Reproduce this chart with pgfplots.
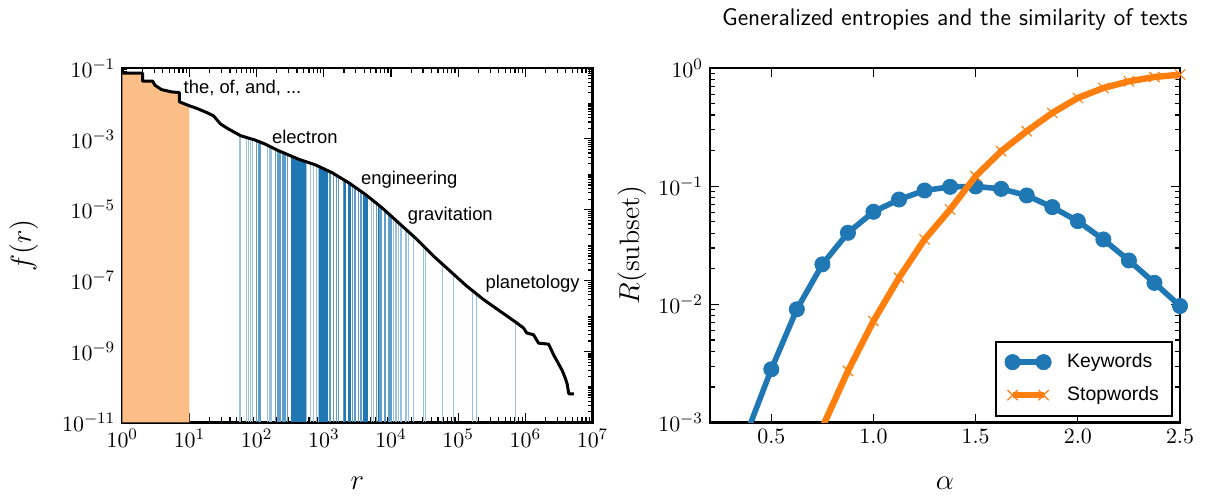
\documentclass[border=0pt]{standalone}
\usepackage{fontspec}
\usepackage{pgfplots}
\pgfplotsset{compat=1.18}
\newfontfamily\helv{Liberation Sans}
\definecolor{tabblue}{HTML}{1F77B4}
\definecolor{taborange}{HTML}{FF7F0E}
\definecolor{fillorange}{HTML}{FABE86}
\pgfplotsset{
  myaxis/.style={
    scale only axis,
    axis line style={line width=1.3pt},
    tick style={line width=0.6pt, black},
    tick align=inside,
    major tick length=4.5pt,
    minor tick length=2.5pt,
    tick label style={font=\fontsize{11}{13}\selectfont},
    label style={font=\fontsize{14}{16}\selectfont},
  }
}
\begin{document}
\begin{tikzpicture}
\useasboundingbox (0,0) rectangle (602.5pt,248pt);
% ---------------- left panel ----------------
\begin{axis}[myaxis,
  at={(61.15pt,36.75pt)}, anchor=south west,
  width=235.1pt, height=177.25pt,
  xmode=log, ymode=log, log origin y=infty,
  xmin=1, xmax=1e7, ymin=1e-11, ymax=1e-1,
  xtick={1,10,100,1000,1e4,1e5,1e6,1e7},
  minor xtick={2,3,4,5,6,7,8,9,20,30,40,50,60,70,80,90,200,300,400,500,600,700,800,900,2000,3000,4000,5000,6000,7000,8000,9000,2e4,3e4,4e4,5e4,6e4,7e4,8e4,9e4,2e5,3e5,4e5,5e5,6e5,7e5,8e5,9e5,2e6,3e6,4e6,5e6,6e6,7e6,8e6,9e6},
  ytick={1e-11,1e-9,1e-7,1e-5,1e-3,1e-1},
  minor ytick={2e-11,3e-11,4e-11,5e-11,6e-11,7e-11,8e-11,9e-11,1e-10,2e-10,3e-10,4e-10,5e-10,6e-10,7e-10,8e-10,9e-10,2e-9,3e-9,4e-9,5e-9,6e-9,7e-9,8e-9,9e-9,1e-8,2e-8,3e-8,4e-8,5e-8,6e-8,7e-8,8e-8,9e-8,2e-7,3e-7,4e-7,5e-7,6e-7,7e-7,8e-7,9e-7,1e-6,2e-6,3e-6,4e-6,5e-6,6e-6,7e-6,8e-6,9e-6,2e-5,3e-5,4e-5,5e-5,6e-5,7e-5,8e-5,9e-5,1e-4,2e-4,3e-4,4e-4,5e-4,6e-4,7e-4,8e-4,9e-4,2e-3,3e-3,4e-3,5e-3,6e-3,7e-3,8e-3,9e-3,1e-2,2e-2,3e-2,4e-2,5e-2,6e-2,7e-2,8e-2,9e-2},
  xlabel={$r$}, ylabel={$f(r)$},
  xlabel style={at={(axis description cs:0.5,-0.171)}, anchor=center},
  ylabel style={at={(axis description cs:-0.21,0.5)}, anchor=center},
]
% stopword region (ranks 1-10)
\addplot[fill=fillorange, draw=none] coordinates {
 (1,1e-11) (1,0.0718) (2,0.0718) (2,0.04285) (2.818,0.04285) (3.076,0.03243)
 (3.846,0.02455) (5.433,0.02113) (7.079,0.02023) (7.079,0.01112) (8.128,0.01)
 (10,0.00855) (10,1e-11)};
% keyword ranks: light
\addplot[ycomb, draw=tabblue!45!white, line width=0.6pt, mark=none] coordinates {
 (56.6,1.256e-3) (71.3,1.091e-3) (75.3,1.057e-3) (81.7,1.009e-3) (86.3,9.795e-4)
 (144.5,6.62e-4) (154.5,6.22e-4) (164,5.89e-4)
 (557,2.24e-4) (625,2.08e-4) (700,1.94e-4) (785,1.78e-4) (830,1.69e-4)
 (5188,1.94e-5) (5470,1.79e-5)
 (10860,5.85e-6) (11530,5.27e-6) (12220,4.78e-6) (12910,4.35e-6) (13680,3.94e-6)
 (14490,3.56e-6) (16260,2.92e-6) (17220,2.65e-6) (18200,2.41e-6) (21580,1.80e-6)
 (30410,9.53e-7) (33040,8.13e-7) (59160,2.86e-7) (85110,1.53e-7)
 (165600,5.12e-8) (185400,4.31e-8) (706300,6.93e-9)};
% medium
\addplot[ycomb, draw=tabblue!72!white, line width=0.65pt, mark=none] coordinates {
 (100.5,8.85e-4) (106.2,8.49e-4) (112.5,8.15e-4)
 (193,5.07e-4) (204,4.81e-4) (216,4.57e-4) (228.5,4.37e-4) (241.5,4.18e-4)
 (256,3.99e-4) (271.5,3.80e-4) (287,3.64e-4)
 (1242,1.18e-4) (1390,1.06e-4) (1560,9.27e-5) (1648,8.69e-5) (1959,7.13e-5)
 (2667,4.90e-5) (2924,4.34e-5) (3273,3.73e-5) (3589,3.30e-5)
 (6152,1.49e-5) (6887,1.26e-5) (7311,1.15e-5) (8185,9.51e-6) (9162,7.83e-6)
 (9705,7.10e-6) (10300,6.40e-6)};
% dark
\addplot[ycomb, draw=tabblue, line width=0.75pt, mark=none] coordinates {
 (333.5,3.23e-4) (348.5,3.11e-4) (360.5,3.03e-4) (377.5,2.92e-4) (393.5,2.82e-4)
 (409,2.74e-4) (428.5,2.65e-4) (448,2.58e-4) (467,2.51e-4) (486.5,2.44e-4)
 (508,2.38e-4) (526,2.32e-4)
 (881,1.60e-4) (920,1.54e-4) (966,1.48e-4) (1009,1.42e-4) (1057,1.36e-4) (1107,1.31e-4)
 (2075,6.68e-5) (2323,5.87e-5) (2460,5.46e-5)
 (3890,2.96e-5) (4121,2.74e-5) (4365,2.52e-5) (6501,1.37e-5)};
% rank-frequency curve
\addplot[black, line width=1.5pt, line join=round, mark=none] coordinates {
 (1,0.0718) (2,0.0718) (2,0.04285) (2.818,0.04285) (3.076,0.03243) (3.846,0.02455)
 (5.433,0.02113) (7.079,0.02023) (7.079,0.01112) (8.128,0.01) (10.26,0.008414)
 (12.91,0.007244) (18.24,0.005495) (22.96,0.004416) (28.97,0.002642) (36.48,0.001995)
 (57.81,0.00123) (93.76,9.33e-4) (132.4,7.194e-4) (209.9,4.68e-4) (418.8,2.685e-4)
 (744.7,1.862e-4) (1324,1.117e-4) (2355,5.781e-5) (4188,2.685e-5) (7447,1.117e-5)
 (13240,4.159e-6) (23550,1.549e-6) (41880,5.176e-7) (74470,1.932e-7) (132400,7.194e-8)
 (235500,2.992e-8) (418800,1.39e-8) (744700,6.457e-9) (937600,4.645e-9)
 (1.052e6,3.342e-9) (1.324e6,2.992e-9) (1.574e6,1.73e-9) (2.223e6,1.622e-9)
 (2.642e6,8.035e-10) (3.524e6,2.992e-10) (3.954e6,1.73e-10) (4.188e6,1.245e-10)
 (4.436e6,6.457e-11) (5.272e6,6.457e-11)};
\node[anchor=base west, inner sep=0pt, font=\helv\fontsize{9.2}{11}\selectfont] at (axis cs:8.1,0.0193) {the, of, and, ...};
\node[anchor=base west, inner sep=0pt, font=\helv\fontsize{9.2}{11}\selectfont] at (axis cs:168,7.5e-4) {electron};
\node[anchor=base west, inner sep=0pt, font=\helv\fontsize{9.2}{11}\selectfont] at (axis cs:3556,5.24e-5) {engineering};
\node[anchor=base west, inner sep=0pt, font=\helv\fontsize{9.2}{11}\selectfont] at (axis cs:17580,5.15e-6) {gravitation};
\node[anchor=base west, inner sep=0pt, font=\helv\fontsize{9.2}{11}\selectfont] at (axis cs:252400,6.09e-8) {planetology};
\end{axis}
% ---------------- right panel ----------------
\begin{axis}[myaxis,
  at={(355pt,36.75pt)}, anchor=south west,
  width=235pt, height=177.25pt,
  ymode=log, xmin=0.2, xmax=2.5, ymin=1e-3, ymax=1,
  clip mode=individual,
  xtick={0.5,1,1.5,2,2.5},
  xticklabel style={/pgf/number format/.cd, fixed, fixed zerofill, precision=1},
  ytick={1e-3,1e-2,1e-1,1},
  minor ytick={2e-3,3e-3,4e-3,5e-3,6e-3,7e-3,8e-3,9e-3,2e-2,3e-2,4e-2,5e-2,6e-2,7e-2,8e-2,9e-2,0.2,0.3,0.4,0.5,0.6,0.7,0.8,0.9},
  xlabel={$\alpha$}, ylabel={$R(\mathrm{subset})$},
  xlabel style={at={(axis description cs:0.5,-0.171)}, anchor=center},
  ylabel style={at={(axis description cs:-0.166,0.5)}, anchor=center},
  title={Generalized entropies and the similarity of texts},
  every axis title/.style={at={(0.521,1)}, anchor=center, yshift=24.5pt, font=\sffamily\fontsize{12}{14}\selectfont},
  legend image code/.code={\draw[#1] plot coordinates {(0pt,0pt) (15.5pt,0pt)};},
  legend style={at={(0.985,0.016)}, anchor=south east, draw=black, line width=1.1pt,
    font=\helv\fontsize{9.7}{11}\selectfont, inner xsep=4.5pt, inner ysep=4pt,
    row sep=4pt, cells={anchor=west},
    /tikz/every odd column/.append style={column sep=6pt}},
]
\addplot[tabblue, line width=2.8pt, line join=round, mark=*, mark size=3.8pt,
  mark options={line width=0.4pt, fill=tabblue, draw=tabblue}] coordinates {
 (0.375,7.7e-4) (0.5,2.82e-3) (0.625,9.08e-3) (0.75,0.0218) (0.875,0.0403) (1.0,0.0607)
 (1.125,0.0771) (1.25,0.0919) (1.375,0.0987) (1.5,0.0995) (1.625,0.0949) (1.75,0.0834)
 (1.875,0.0665) (2.0,0.0506) (2.125,0.0354) (2.25,0.0235) (2.375,0.0152) (2.5,0.00968)};
\addlegendentry{Keywords}
\addplot[taborange, line width=3.2pt, line join=round, mark=x, mark size=3.6pt,
  mark options={line width=0.6pt}] coordinates {
 (0.75,9.1e-4) (0.875,2.73e-3) (1.0,7.23e-3) (1.125,0.0168) (1.25,0.0354) (1.375,0.0635)
 (1.5,0.1216) (1.625,0.1977) (1.75,0.2917) (1.875,0.4168) (2.0,0.5577) (2.125,0.6776)
 (2.25,0.7715) (2.375,0.839) (2.5,0.879)};
\addlegendentry{Stopwords}
\end{axis}
\end{tikzpicture}
\end{document}
